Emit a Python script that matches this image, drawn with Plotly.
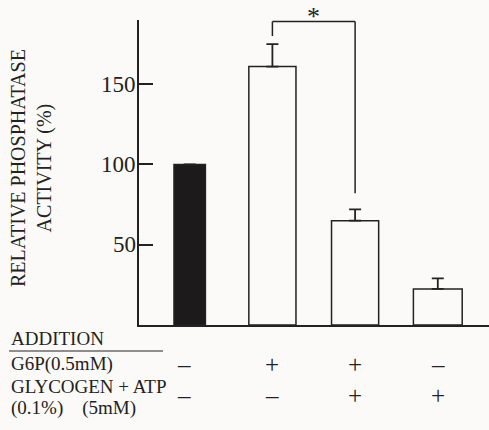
import plotly.graph_objects as go

# ---- data ----
conditions = ["Control", "G6P", "G6P + Glycogen + ATP", "Glycogen + ATP"]
activity = [100, 161, 65, 22.5]
error_up = [0, 14, 7, 6.5]
g6p_signs = ["\u2013", "+", "+", "\u2013"]
glyatp_signs = ["\u2013", "\u2013", "+", "+"]
ytick_vals = [50, 100, 150]

# ---- layout constants (pixels) ----
W, H = 489, 430
L, R, T, B = 139, 0, 20, 105
PW, PH = W - L - R, H - T - B
INK = "#222222"
FONT = "Liberation Serif"
BG = "#fbfaf8"

def px_x(px):
    return (px - L) / PW

def px_y(py):
    return (H - B - py) / PH

xpos = list(range(len(conditions)))
fills = ["#1c1a1a", BG, BG, BG]
widths = [0.38, 0.57, 0.57, 0.59]

fig = go.Figure()
fig.add_trace(go.Bar(
    x=xpos, y=activity, width=widths,
    marker=dict(color=fills, line=dict(color=INK, width=1.5)),
    error_y=dict(type="data", symmetric=False, array=error_up,
                 arrayminus=[0] * len(error_up), color=INK,
                 thickness=1.8, width=6, visible=True),
    hovertext=conditions, showlegend=False,
))

# significance bracket between bar 2 and bar 3
top = 189
fig.add_shape(type="line", xref="x", yref="y", x0=1, x1=1,
              y0=activity[1] + error_up[1] + 5, y1=top,
              line=dict(color=INK, width=1.5))
fig.add_shape(type="line", xref="x", yref="y", x0=1, x1=2, y0=top, y1=top,
              line=dict(color=INK, width=1.5))
fig.add_shape(type="line", xref="x", yref="y", x0=2, x1=2,
              y0=activity[2] + error_up[2] + 10, y1=top,
              line=dict(color=INK, width=1.5))
fig.add_annotation(x=1.5, xref="x", y=px_y(0), yref="paper", text="*",
                   showarrow=False, font=dict(family=FONT, size=26, color=INK),
                   yanchor="top", xanchor="center")

# y tick labels (placed right next to the axis line)
for v in ytick_vals:
    fig.add_annotation(x=px_x(138), xref="paper", y=v, yref="y",
                       text=str(v), showarrow=False, xanchor="right",
                       yanchor="middle",
                       font=dict(family=FONT, size=23, color=INK))

# y axis title
fig.add_annotation(x=px_x(31), xref="paper", y=px_y(168), yref="paper",
                   text="RELATIVE PHOSPHATASE<br>ACTIVITY (%)", textangle=-90,
                   showarrow=False, align="center", xanchor="center",
                   yanchor="middle",
                   font=dict(family=FONT, size=20, color=INK))

# bottom table
lab_font = dict(family=FONT, size=19, color=INK)
fig.add_annotation(x=px_x(9), xref="paper", y=px_y(338), yref="paper",
                   text="ADDITION", showarrow=False, xanchor="left",
                   yanchor="middle", font=lab_font)
fig.add_shape(type="line", xref="paper", yref="paper",
              x0=px_x(9), x1=px_x(163), y0=px_y(351), y1=px_y(351),
              line=dict(color=INK, width=1.2))
fig.add_annotation(x=px_x(9), xref="paper", y=px_y(364), yref="paper",
                   text="G6P(0.5mM)", showarrow=False, xanchor="left",
                   yanchor="middle", font=lab_font)
fig.add_annotation(x=px_x(9), xref="paper", y=px_y(386), yref="paper",
                   text="GLYCOGEN + ATP", showarrow=False, xanchor="left",
                   yanchor="middle", font=lab_font)
fig.add_annotation(x=px_x(9), xref="paper", y=px_y(408), yref="paper",
                   text="(0.1%)\u00a0\u00a0\u00a0\u00a0(5mM)", showarrow=False,
                   xanchor="left", yanchor="middle", font=lab_font)

sign_font = dict(family=FONT, size=25, color=INK)
for i in range(len(conditions)):
    fig.add_annotation(x=xpos[i] - (0.07 if i == 0 else 0), xref="x",
                       y=px_y(364), yref="paper", text=g6p_signs[i],
                       showarrow=False, yanchor="middle", xanchor="center",
                       font=sign_font)
    fig.add_annotation(x=xpos[i] - (0.07 if i == 0 else 0), xref="x",
                       y=px_y(395), yref="paper", text=glyatp_signs[i],
                       showarrow=False, yanchor="middle", xanchor="center",
                       font=sign_font)

x0 = (L - 189.7) / 82.7
x1 = (W - 189.7) / 82.7
fig.update_layout(
    width=W, height=H, margin=dict(l=L, r=R, t=T, b=B),
    paper_bgcolor=BG, plot_bgcolor=BG,
    font=dict(family=FONT, color=INK),
    xaxis=dict(range=[x0, x1], showticklabels=False, ticks="",
               showgrid=False, zeroline=False, showline=True,
               linecolor=INK, linewidth=2),
    yaxis=dict(range=[0, 190], tickvals=ytick_vals, ticks="inside",
               ticklen=14, tickwidth=1.8, tickcolor=INK,
               showticklabels=False,
               showgrid=False, zeroline=False, showline=True,
               linecolor=INK, linewidth=2),
    bargap=0.3,
)

fig.write_html("out.html")
